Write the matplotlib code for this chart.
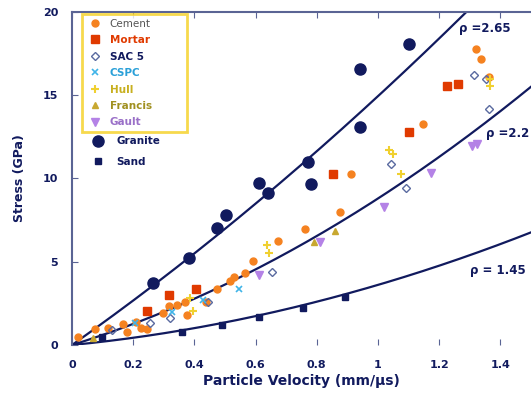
import matplotlib
matplotlib.use("Agg")
import matplotlib.pyplot as plt
import numpy as np

# ---- data ----
granite_u = [0.264, 0.381, 0.473, 0.502, 0.61, 0.64, 0.77, 0.78, 0.94, 0.94, 1.10]
granite_s = [3.72, 5.23, 7.0, 7.8, 9.7, 9.1, 11.0, 9.65, 13.1, 16.55, 18.1]

sand_u = [0.098, 0.36, 0.49, 0.61, 0.755, 0.893]
sand_s = [0.48, 0.78, 1.2, 1.68, 2.2, 2.88]

cement_u = [0.02, 0.075, 0.117, 0.166, 0.18, 0.209, 0.225, 0.245, 0.297, 0.316, 0.342,
            0.368, 0.375, 0.437, 0.473, 0.515, 0.528, 0.564, 0.59, 0.672, 0.763,
            0.877, 0.913, 1.148, 1.32, 1.337, 1.363]
cement_s = [0.5, 0.95, 1.0, 1.26, 0.8, 1.4, 1.0, 0.95, 1.9, 2.34, 2.4,
            2.6, 1.8, 2.6, 3.36, 3.84, 4.08, 4.32, 5.04, 6.24, 6.96,
            7.98, 10.26, 13.26, 17.75, 17.2, 16.1]

mortar_u = [0.245, 0.316, 0.404, 0.854, 1.10, 1.226, 1.262]
mortar_s = [2.04, 3.0, 3.36, 10.26, 12.78, 15.54, 15.66]

sac5_u = [0.13, 0.254, 0.32, 0.443, 0.652, 1.043, 1.092, 1.314, 1.353, 1.363]
sac5_s = [0.9, 1.3, 1.6, 2.58, 4.38, 10.86, 9.42, 16.2, 16.0, 14.2]

cspc_u = [0.205, 0.326, 0.428, 0.545]
cspc_s = [1.3, 1.98, 2.7, 3.36]

hull_u = [0.385, 0.395, 0.636, 0.645, 1.037, 1.05, 1.076, 1.366, 1.366]
hull_s = [2.8, 2.04, 6.0, 5.5, 11.7, 11.46, 10.26, 15.54, 16.0]

francis_u = [0.07, 0.792, 0.861]
francis_s = [0.45, 6.18, 6.84]

gault_u = [0.61, 0.812, 1.02, 1.174, 1.307, 1.324]
gault_s = [4.2, 6.18, 8.28, 10.32, 11.94, 12.06]

# Hugoniot curves: sigma = rho * (C0 + S*u) * u
rho_vals = [2.65, 2.2, 1.45]
c0_vals = [4.89, 2.6, 1.25]
s_vals = [0.75, 1.4, 1.24]
rho_labels = ["\u03c1 =2.65", "\u03c1 =2.2", "\u03c1 = 1.45"]
rho_label_pos = [(1.265, 19.0), (1.353, 12.7), (1.30, 4.45)]

xticks = [0, 0.2, 0.4, 0.6, 0.8, 1, 1.2, 1.4]
xticklabels = ["0", "0.2", "0.4", "0.6", "0.8", "1", "1.2", "1.4"]
yticks = [0, 5, 10, 15, 20]

navy = "#111a5e"
spine_c = "#5a6494"

fig = plt.figure(figsize=(5.31, 4.0), dpi=100)
ax = fig.add_axes([72/531, 55/400, 1 - 72/531, (345-12)/400])

u = np.linspace(0, 1.5, 200)
for rho, c0, s in zip(rho_vals, c0_vals, s_vals):
    ax.plot(u, rho * (c0 + s * u) * u, color=navy, lw=1.6, zorder=2)
for lab, (x, y) in zip(rho_labels, rho_label_pos):
    ax.text(x, y, lab, color=navy, fontsize=8.5, fontweight="bold", va="center", ha="left")

series = [
    ("Cement", cement_u, cement_s, dict(marker="o", color="#f58220", ms=5, ls="none"), "#555555", "normal"),
    ("Mortar", mortar_u, mortar_s, dict(marker="s", color="#e03a00", ms=6, ls="none"), "#e03a00", "bold"),
    ("SAC 5", sac5_u, sac5_s, dict(marker="D", mfc="none", mec="#5a6aa0", mew=1.0, ms=4, ls="none"), navy, "bold"),
    ("CSPC", cspc_u, cspc_s, dict(marker="x", color="#40b4e8", mew=1.2, ms=5, ls="none"), "#2aa0d8", "bold"),
    ("Hull", hull_u, hull_s, dict(marker="+", color="#f0d030", mew=1.5, ms=6, ls="none"), "#c8b020", "bold"),
    ("Francis", francis_u, francis_s, dict(marker="^", color="#c8a830", ms=5, ls="none"), "#a09020", "bold"),
    ("Gault", gault_u, gault_s, dict(marker="v", color="#b482e6", ms=5.5, ls="none"), "#9a70c8", "bold"),
]
handles1 = []
for name, xs, ys, kw, tc, fw in series:
    h, = ax.plot(xs, ys, zorder=3, **kw)
    handles1.append(h)

hg, = ax.plot(granite_u, granite_s, marker="o", color=navy, ms=8, ls="none", zorder=4)
hs, = ax.plot(sand_u, sand_s, marker="s", color=navy, ms=4, ls="none", zorder=4)

ax.set_xlim(0, 1.5)
ax.set_ylim(0, 20)
ax.set_xticks(xticks)
ax.set_xticklabels(xticklabels)
ax.set_yticks(yticks)
ax.tick_params(direction="in", length=4, color=spine_c, labelcolor=navy, labelsize=8, pad=11,
               top=True, bottom=True, left=True, right=False)
ax.tick_params(axis="y", pad=10)
for lab in ax.get_xticklabels() + ax.get_yticklabels():
    lab.set_fontweight("bold")
for sp in ["right", "bottom"]:
    ax.spines[sp].set_visible(False)
for sp in ["top", "left"]:
    ax.spines[sp].set_color(spine_c)
    ax.spines[sp].set_linewidth(1.5)

ax.set_xlabel("Particle Velocity (mm/\u00b5s)", fontsize=10, fontweight="bold", color=navy, labelpad=3)
ax.set_ylabel("Stress (GPa)", fontsize=9, fontweight="bold", color=navy, labelpad=12)

leg1 = ax.legend(handles1, [s[0] for s in series], loc="upper left",
                 bbox_to_anchor=(82/531, 132/400, 105/531, 254/400), bbox_transform=fig.transFigure,
                 mode="expand",
                 borderaxespad=0, fontsize=7.5, labelspacing=0.62, handlelength=1.6,
                 handletextpad=0.6, borderpad=0.45, frameon=True, fancybox=False)
leg1.get_frame().set_edgecolor("#f5d020")
leg1.get_frame().set_linewidth(2)
for t, s in zip(leg1.get_texts(), series):
    t.set_color(s[4])
    t.set_fontweight(s[5])
ax.add_artist(leg1)

leg2 = ax.legend([hg, hs], ["Granite", "Sand"], loc="upper left",
                 bbox_to_anchor=(86/531, 268/400), bbox_transform=fig.transFigure,
                 borderaxespad=0, fontsize=7.5, labelspacing=1.0, handlelength=1.5,
                 handletextpad=1.0, frameon=False)
for t in leg2.get_texts():
    t.set_color(navy)
    t.set_fontweight("bold")

fig.savefig("out.png", dpi=100)
